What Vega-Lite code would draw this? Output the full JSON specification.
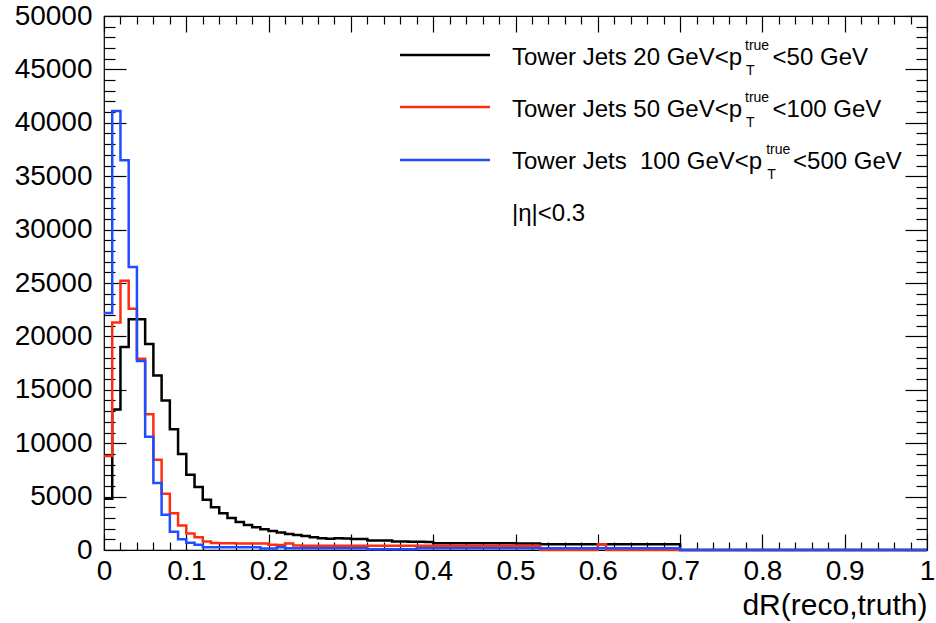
{
"$schema": "https://vega.github.io/schema/vega-lite/v6.json",
"width": 823, "height": 534,
"autosize": {"type": "none"},
"padding": {"left": 104, "top": 16, "right": 9, "bottom": 73},
"background": "white",
"config": {"font": "Liberation Sans", "view": {"stroke": "#000", "strokeWidth": 1.2},
  "axis": {"grid": false, "domain": false, "tickColor": "#000", "labelColor": "#000", "titleColor": "#000", "labelFontSize": 28, "tickWidth": 1.2, "labelOverlap": false, "labelBound": false, "labelFlush": false},
  "text": {"font": "Liberation Sans", "color": "#000", "align": "left", "baseline": "alphabetic"}},
"data": {"values": [
{"s":"a","x":0,"n":4800},{"s":"a","x":0.01,"n":13150},{"s":"a","x":0.02,"n":19000},{"s":"a","x":0.03,"n":21600},{"s":"a","x":0.04,"n":21600},{"s":"a","x":0.05,"n":19300},{"s":"a","x":0.06,"n":16350},{"s":"a","x":0.07,"n":14000},{"s":"a","x":0.08,"n":11300},{"s":"a","x":0.09,"n":9000},
{"s":"a","x":0.10,"n":7050},{"s":"a","x":0.11,"n":5900},{"s":"a","x":0.12,"n":4700},{"s":"a","x":0.13,"n":4000},{"s":"a","x":0.14,"n":3450},{"s":"a","x":0.15,"n":3000},{"s":"a","x":0.16,"n":2620},{"s":"a","x":0.17,"n":2330},{"s":"a","x":0.18,"n":2120},{"s":"a","x":0.19,"n":1940},
{"s":"a","x":0.20,"n":1790},{"s":"a","x":0.21,"n":1630},{"s":"a","x":0.22,"n":1500},{"s":"a","x":0.23,"n":1410},{"s":"a","x":0.24,"n":1310},{"s":"a","x":0.25,"n":1200},{"s":"a","x":0.26,"n":1100},{"s":"a","x":0.27,"n":1060},{"s":"a","x":0.28,"n":1100},{"s":"a","x":0.29,"n":1080},
{"s":"a","x":0.30,"n":1040},{"s":"a","x":0.31,"n":1020},{"s":"a","x":0.32,"n":900},{"s":"a","x":0.33,"n":880},{"s":"a","x":0.34,"n":900},{"s":"a","x":0.35,"n":800},{"s":"a","x":0.36,"n":790},{"s":"a","x":0.37,"n":780},{"s":"a","x":0.38,"n":770},{"s":"a","x":0.39,"n":760},
{"s":"a","x":0.40,"n":640},{"s":"a","x":0.41,"n":640},{"s":"a","x":0.42,"n":630},{"s":"a","x":0.43,"n":630},{"s":"a","x":0.44,"n":630},{"s":"a","x":0.45,"n":630},{"s":"a","x":0.46,"n":630},{"s":"a","x":0.47,"n":630},{"s":"a","x":0.48,"n":630},{"s":"a","x":0.49,"n":630},
{"s":"a","x":0.50,"n":620},{"s":"a","x":0.51,"n":620},{"s":"a","x":0.52,"n":620},{"s":"a","x":0.53,"n":540},{"s":"a","x":0.54,"n":540},{"s":"a","x":0.55,"n":540},{"s":"a","x":0.56,"n":540},{"s":"a","x":0.57,"n":540},{"s":"a","x":0.58,"n":540},{"s":"a","x":0.59,"n":540},
{"s":"a","x":0.60,"n":540},{"s":"a","x":0.61,"n":530},{"s":"a","x":0.62,"n":530},{"s":"a","x":0.63,"n":530},{"s":"a","x":0.64,"n":530},{"s":"a","x":0.65,"n":530},{"s":"a","x":0.66,"n":530},{"s":"a","x":0.67,"n":530},{"s":"a","x":0.68,"n":530},{"s":"a","x":0.69,"n":530},
{"s":"a","x":0.70,"n":0},{"s":"a","x":1.0,"n":0},
{"s":"b","x":0,"n":8800},{"s":"b","x":0.01,"n":21300},{"s":"b","x":0.02,"n":25200},{"s":"b","x":0.03,"n":22600},{"s":"b","x":0.04,"n":17900},{"s":"b","x":0.05,"n":12700},{"s":"b","x":0.06,"n":8460},{"s":"b","x":0.07,"n":5260},{"s":"b","x":0.08,"n":3450},{"s":"b","x":0.09,"n":2300},
{"s":"b","x":0.10,"n":1550},{"s":"b","x":0.11,"n":1200},{"s":"b","x":0.12,"n":800},{"s":"b","x":0.13,"n":650},{"s":"b","x":0.14,"n":630},{"s":"b","x":0.15,"n":630},{"s":"b","x":0.16,"n":620},{"s":"b","x":0.17,"n":620},{"s":"b","x":0.18,"n":610},{"s":"b","x":0.19,"n":600},
{"s":"b","x":0.20,"n":480},{"s":"b","x":0.21,"n":470},{"s":"b","x":0.22,"n":600},{"s":"b","x":0.23,"n":420},{"s":"b","x":0.24,"n":400},{"s":"b","x":0.25,"n":400},{"s":"b","x":0.26,"n":400},{"s":"b","x":0.27,"n":390},{"s":"b","x":0.28,"n":390},{"s":"b","x":0.29,"n":390},
{"s":"b","x":0.30,"n":390},{"s":"b","x":0.31,"n":390},{"s":"b","x":0.32,"n":390},{"s":"b","x":0.33,"n":390},{"s":"b","x":0.34,"n":390},{"s":"b","x":0.35,"n":390},{"s":"b","x":0.36,"n":390},{"s":"b","x":0.37,"n":390},{"s":"b","x":0.38,"n":390},{"s":"b","x":0.39,"n":390},
{"s":"b","x":0.40,"n":390},{"s":"b","x":0.41,"n":390},{"s":"b","x":0.42,"n":390},{"s":"b","x":0.43,"n":390},{"s":"b","x":0.44,"n":390},{"s":"b","x":0.45,"n":390},{"s":"b","x":0.46,"n":390},{"s":"b","x":0.47,"n":390},{"s":"b","x":0.48,"n":390},{"s":"b","x":0.49,"n":390},
{"s":"b","x":0.50,"n":390},{"s":"b","x":0.51,"n":390},{"s":"b","x":0.52,"n":390},{"s":"b","x":0.53,"n":0},{"s":"b","x":0.54,"n":0},{"s":"b","x":0.55,"n":0},{"s":"b","x":0.56,"n":0},{"s":"b","x":0.57,"n":0},{"s":"b","x":0.58,"n":0},{"s":"b","x":0.59,"n":0},
{"s":"b","x":0.60,"n":550},{"s":"b","x":0.61,"n":0},{"s":"b","x":0.62,"n":0},{"s":"b","x":0.63,"n":0},{"s":"b","x":0.64,"n":0},{"s":"b","x":0.65,"n":0},{"s":"b","x":0.66,"n":0},{"s":"b","x":0.67,"n":0},{"s":"b","x":0.68,"n":0},{"s":"b","x":0.69,"n":0},
{"s":"b","x":0.70,"n":0},{"s":"b","x":1.0,"n":0},
{"s":"c","x":0,"n":22200},{"s":"c","x":0.01,"n":41100},{"s":"c","x":0.02,"n":36500},{"s":"c","x":0.03,"n":26500},{"s":"c","x":0.04,"n":17700},{"s":"c","x":0.05,"n":10600},{"s":"c","x":0.06,"n":6270},{"s":"c","x":0.07,"n":3290},{"s":"c","x":0.08,"n":1720},{"s":"c","x":0.09,"n":1000},
{"s":"c","x":0.10,"n":690},{"s":"c","x":0.11,"n":500},{"s":"c","x":0.12,"n":250},{"s":"c","x":0.13,"n":250},{"s":"c","x":0.14,"n":250},{"s":"c","x":0.15,"n":250},{"s":"c","x":0.16,"n":250},{"s":"c","x":0.17,"n":250},{"s":"c","x":0.18,"n":250},{"s":"c","x":0.19,"n":150},
{"s":"c","x":0.20,"n":150},{"s":"c","x":0.21,"n":250},{"s":"c","x":0.22,"n":160},{"s":"c","x":0.23,"n":160},{"s":"c","x":0.24,"n":160},{"s":"c","x":0.25,"n":160},{"s":"c","x":0.26,"n":160},{"s":"c","x":0.27,"n":160},{"s":"c","x":0.28,"n":160},{"s":"c","x":0.29,"n":160},
{"s":"c","x":0.30,"n":160},{"s":"c","x":0.31,"n":160},{"s":"c","x":0.32,"n":60},{"s":"c","x":0.33,"n":60},{"s":"c","x":0.34,"n":60},{"s":"c","x":0.35,"n":60},{"s":"c","x":0.36,"n":60},{"s":"c","x":0.37,"n":60},{"s":"c","x":0.38,"n":160},{"s":"c","x":0.39,"n":160},
{"s":"c","x":0.40,"n":160},{"s":"c","x":0.41,"n":160},{"s":"c","x":0.42,"n":160},{"s":"c","x":0.43,"n":160},{"s":"c","x":0.44,"n":160},{"s":"c","x":0.45,"n":160},{"s":"c","x":0.46,"n":160},{"s":"c","x":0.47,"n":160},{"s":"c","x":0.48,"n":160},{"s":"c","x":0.49,"n":160},
{"s":"c","x":0.50,"n":160},{"s":"c","x":0.51,"n":160},{"s":"c","x":0.52,"n":160},{"s":"c","x":0.53,"n":160},{"s":"c","x":0.54,"n":160},{"s":"c","x":0.55,"n":160},{"s":"c","x":0.56,"n":160},{"s":"c","x":0.57,"n":160},{"s":"c","x":0.58,"n":160},{"s":"c","x":0.59,"n":160},
{"s":"c","x":0.60,"n":160},{"s":"c","x":0.61,"n":160},{"s":"c","x":0.62,"n":160},{"s":"c","x":0.63,"n":160},{"s":"c","x":0.64,"n":160},{"s":"c","x":0.65,"n":160},{"s":"c","x":0.66,"n":160},{"s":"c","x":0.67,"n":160},{"s":"c","x":0.68,"n":160},{"s":"c","x":0.69,"n":160},
{"s":"c","x":0.70,"n":0},{"s":"c","x":1.0,"n":0}
]},
"layer": [
{"transform": [{"filter": "datum.s == 'a'"}],
 "mark": {"type": "line", "interpolate": "step-after", "color": "#000000", "strokeWidth": 2.5},
 "encoding": {
  "x": {"field": "x", "type": "quantitative", "scale": {"domain": [0, 1], "nice": false, "zero": false},
        "axis": {"orient": "bottom", "values": [0,0.1,0.2,0.3,0.4,0.5,0.6,0.7,0.8,0.9,1], "format": ".1~f", "tickSize": -16, "labelPadding": 23, "labelFontSize": 28,
                 "title": "dR(reco,truth)", "titleFontSize": 30, "titleFontWeight": "normal", "titleAnchor": "end", "titleAlign": "right", "titlePadding": 5}},
  "y": {"field": "n", "type": "quantitative", "scale": {"domain": [0, 50000], "nice": false},
        "axis": {"orient": "left", "values": [0,5000,10000,15000,20000,25000,30000,35000,40000,45000,50000], "format": "d", "tickSize": -22, "labelPadding": 34, "labelFontSize": 28, "title": null}}}},
{"transform": [{"filter": "datum.s == 'b'"}],
 "mark": {"type": "line", "interpolate": "step-after", "color": "#ff2d10", "strokeWidth": 2.5},
 "encoding": {
  "x": {"field": "x", "type": "quantitative",
        "axis": {"orient": "bottom", "values": [0.02,0.04,0.06,0.08,0.12,0.14,0.16,0.18,0.22,0.24,0.26,0.28,0.32,0.34,0.36,0.38,0.42,0.44,0.46,0.48,0.52,0.54,0.56,0.58,0.62,0.64,0.66,0.68,0.72,0.74,0.76,0.78,0.82,0.84,0.86,0.88,0.92,0.94,0.96,0.98], "tickSize": -8, "labels": false, "title": null}},
  "y": {"field": "n", "type": "quantitative",
        "axis": {"orient": "left", "values": [1000,2000,3000,4000,6000,7000,8000,9000,11000,12000,13000,14000,16000,17000,18000,19000,21000,22000,23000,24000,26000,27000,28000,29000,31000,32000,33000,34000,36000,37000,38000,39000,41000,42000,43000,44000,46000,47000,48000,49000], "tickSize": -11, "labels": false, "title": null}}}},
{"transform": [{"filter": "datum.s == 'c'"}],
 "mark": {"type": "line", "interpolate": "step-after", "color": "#1d4fff", "strokeWidth": 2.5},
 "encoding": {
  "x": {"field": "x", "type": "quantitative",
        "axis": {"orient": "top", "values": [0,0.1,0.2,0.3,0.4,0.5,0.6,0.7,0.8,0.9,1], "tickSize": -16, "labels": false, "title": null}},
  "y": {"field": "n", "type": "quantitative",
        "axis": {"orient": "right", "values": [0,5000,10000,15000,20000,25000,30000,35000,40000,45000,50000], "tickSize": -22, "labels": false, "title": null}}}},
{"transform": [{"filter": "datum.s == 'c'"}],
 "mark": {"type": "line", "opacity": 0},
 "encoding": {
  "x": {"field": "x", "type": "quantitative",
        "axis": {"orient": "top", "values": [0.02,0.04,0.06,0.08,0.12,0.14,0.16,0.18,0.22,0.24,0.26,0.28,0.32,0.34,0.36,0.38,0.42,0.44,0.46,0.48,0.52,0.54,0.56,0.58,0.62,0.64,0.66,0.68,0.72,0.74,0.76,0.78,0.82,0.84,0.86,0.88,0.92,0.94,0.96,0.98], "tickSize": -8, "labels": false, "title": null}},
  "y": {"field": "n", "type": "quantitative",
        "axis": {"orient": "right", "values": [1000,2000,3000,4000,6000,7000,8000,9000,11000,12000,13000,14000,16000,17000,18000,19000,21000,22000,23000,24000,26000,27000,28000,29000,31000,32000,33000,34000,36000,37000,38000,39000,41000,42000,43000,44000,46000,47000,48000,49000], "tickSize": -11, "labels": false, "title": null}}}},
{"data": {"values": [{}]}, "mark": {"type": "rule", "color": "#000000", "strokeWidth": 2.5},
 "encoding": {"x": {"datum": 0.3597, "type": "quantitative", "axis": null}, "x2": {"datum": 0.469}, "y": {"datum": 46348, "type": "quantitative", "axis": null}}},
{"data": {"values": [{}]}, "mark": {"type": "rule", "color": "#ff2d10", "strokeWidth": 2.5},
 "encoding": {"x": {"datum": 0.3597, "type": "quantitative", "axis": null}, "x2": {"datum": 0.469}, "y": {"datum": 41479, "type": "quantitative", "axis": null}}},
{"data": {"values": [{}]}, "mark": {"type": "rule", "color": "#1d4fff", "strokeWidth": 2.5},
 "encoding": {"x": {"datum": 0.3597, "type": "quantitative", "axis": null}, "x2": {"datum": 0.469}, "y": {"datum": 36517, "type": "quantitative", "axis": null}}},
{"data": {"values": [{}]}, "mark": {"type": "text", "text": "Tower Jets 20 GeV<p", "fontSize": 24},
 "encoding": {"x": {"datum": 0.4957, "type": "quantitative", "axis": null}, "y": {"datum": 45412, "type": "quantitative", "axis": null}}},
{"data": {"values": [{}]}, "mark": {"type": "text", "text": "true", "fontSize": 14},
 "encoding": {"x": {"datum": 0.7789, "type": "quantitative", "axis": null}, "y": {"datum": 46816, "type": "quantitative", "axis": null}}},
{"data": {"values": [{}]}, "mark": {"type": "text", "text": "T", "fontSize": 14},
 "encoding": {"x": {"datum": 0.7801, "type": "quantitative", "axis": null}, "y": {"datum": 44476, "type": "quantitative", "axis": null}}},
{"data": {"values": [{}]}, "mark": {"type": "text", "text": "<50 GeV", "fontSize": 24},
 "encoding": {"x": {"datum": 0.8124, "type": "quantitative", "axis": null}, "y": {"datum": 45412, "type": "quantitative", "axis": null}}},
{"data": {"values": [{}]}, "mark": {"type": "text", "text": "Tower Jets 50 GeV<p", "fontSize": 24},
 "encoding": {"x": {"datum": 0.4957, "type": "quantitative", "axis": null}, "y": {"datum": 40543, "type": "quantitative", "axis": null}}},
{"data": {"values": [{}]}, "mark": {"type": "text", "text": "true", "fontSize": 14},
 "encoding": {"x": {"datum": 0.7789, "type": "quantitative", "axis": null}, "y": {"datum": 41948, "type": "quantitative", "axis": null}}},
{"data": {"values": [{}]}, "mark": {"type": "text", "text": "T", "fontSize": 14},
 "encoding": {"x": {"datum": 0.7801, "type": "quantitative", "axis": null}, "y": {"datum": 39607, "type": "quantitative", "axis": null}}},
{"data": {"values": [{}]}, "mark": {"type": "text", "text": "<100 GeV", "fontSize": 24},
 "encoding": {"x": {"datum": 0.8124, "type": "quantitative", "axis": null}, "y": {"datum": 40543, "type": "quantitative", "axis": null}}},
{"data": {"values": [{}]}, "mark": {"type": "text", "text": "Tower Jets \u00a0100 GeV<p", "fontSize": 24},
 "encoding": {"x": {"datum": 0.4957, "type": "quantitative", "axis": null}, "y": {"datum": 35674, "type": "quantitative", "axis": null}}},
{"data": {"values": [{}]}, "mark": {"type": "text", "text": "true", "fontSize": 14},
 "encoding": {"x": {"datum": 0.8046, "type": "quantitative", "axis": null}, "y": {"datum": 37078, "type": "quantitative", "axis": null}}},
{"data": {"values": [{}]}, "mark": {"type": "text", "text": "T", "fontSize": 14},
 "encoding": {"x": {"datum": 0.8058, "type": "quantitative", "axis": null}, "y": {"datum": 34739, "type": "quantitative", "axis": null}}},
{"data": {"values": [{}]}, "mark": {"type": "text", "text": "<500 GeV", "fontSize": 24},
 "encoding": {"x": {"datum": 0.8372, "type": "quantitative", "axis": null}, "y": {"datum": 35674, "type": "quantitative", "axis": null}}},
{"data": {"values": [{}]}, "mark": {"type": "text", "text": "|η|<0.3", "fontSize": 24},
 "encoding": {"x": {"datum": 0.4957, "type": "quantitative", "axis": null}, "y": {"datum": 30805, "type": "quantitative", "axis": null}}}
],
"resolve": {"axis": {"x": "independent", "y": "independent"}}
}
